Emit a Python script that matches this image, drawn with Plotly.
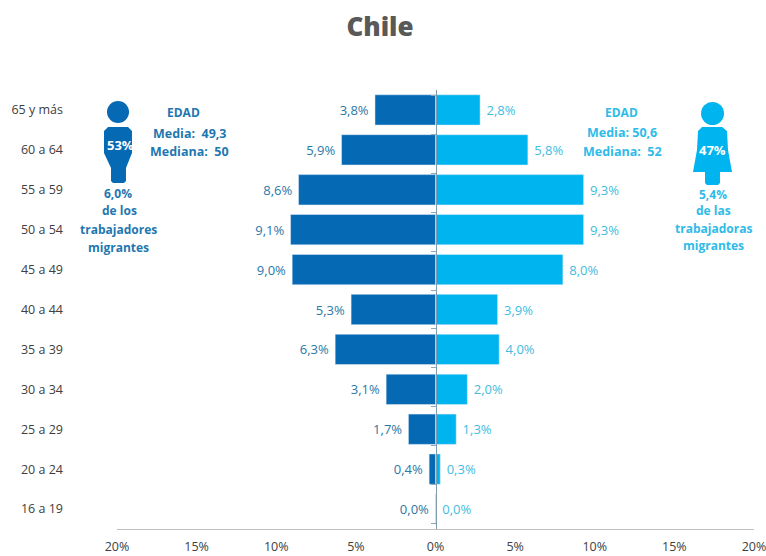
import plotly.graph_objects as go

categories = ["16 a 19", "20 a 24", "25 a 29", "30 a 34", "35 a 39", "40 a 44",
              "45 a 49", "50 a 54", "55 a 59", "60 a 64", "65 y más"]
men = [0.02, 0.4, 1.7, 3.1, 6.3, 5.3, 9.0, 9.1, 8.6, 5.9, 3.8]
women = [0.02, 0.3, 1.3, 2.0, 4.0, 3.9, 8.0, 9.3, 9.3, 5.8, 2.8]
tick_values = [-20, -15, -10, -5, 0, 5, 10, 15, 20]
tick_labels = ["20%", "15%", "10%", "5%", "0%", "5%", "10%", "15%", "20%"]

DARK, LIGHT = "#0569B4", "#00B5EF"
DARK_T, LIGHT_T = "#1F77B0", "#2FBBE8"
FONT = "Open Sans"
W, H = 766, 556
L, R, T, B = 117, 12, 90, 27
NB = "\u00a0"


def fx(x):
    return (x - L) / (W - L - R)


def fy(y):
    return (H - B - y) / (H - T - B)


def fmt(v):
    return f"{v:.1f}".replace(".", ",") + "%"


fig = go.Figure()
fig.add_bar(y=categories, x=[-v for v in men], orientation="h", marker_color=DARK,
            text=[fmt(v) + NB for v in men], textposition="outside", cliponaxis=False,
            textfont=dict(color="#2A78A8", size=13, family=FONT), width=0.76)
fig.add_bar(y=categories, x=women, orientation="h", marker_color=LIGHT,
            text=[NB + fmt(v) for v in women], textposition="outside", cliponaxis=False,
            textfont=dict(color="#42BCE0", size=13, family=FONT), width=0.76)
fig.add_scatter(y=categories, x=[0] * len(categories), yaxis="y2", mode="markers",
                marker=dict(size=1, opacity=0), hoverinfo="skip")

annots = [
    ("EDAD", 183, 113, DARK_T, 12), ("Media:  49,3", 190, 133, DARK_T, 12.5),
    ("Mediana:  50", 189, 151, DARK_T, 12.5),
    ("53%", 120, 145, "white", 13),
    ("6,0%", 118, 193, DARK_T, 12), ("de los", 119, 211, DARK_T, 12),
    ("trabajadores", 118, 229, DARK_T, 12), ("migrantes", 118, 247, DARK_T, 12),
    ("EDAD", 621, 113, LIGHT_T, 12), ("Media: 50,6", 622, 132, LIGHT_T, 12.5),
    ("Mediana:  52", 622, 151, LIGHT_T, 12.5),
    ("47%", 712, 150, "white", 13),
    ("5,4%", 713, 194, LIGHT_T, 12), ("de las", 713, 211, LIGHT_T, 12),
    ("trabajadoras", 713, 228, LIGHT_T, 12), ("migrantes", 713, 245, LIGHT_T, 12),
]
annotations = [dict(text=f"<b>{t}</b>", x=fx(x), y=fy(y), xref="paper", yref="paper",
                    showarrow=False, xanchor="center", yanchor="middle",
                    font=dict(family=FONT, size=s, color=c))
               for t, x, y, c, s in annots]


def path(points):
    return "M" + " L".join(f"{fx(x):.4f},{fy(y):.4f}" for x, y in points) + " Z"


man_body = [(108, 127), (128, 127), (132, 131), (132, 153), (126, 168), (126, 181),
            (124, 183), (113, 183), (111, 181), (111, 168), (104, 153), (104, 131)]
woman_body = [(702, 127), (722, 127), (727, 131), (728, 150), (732, 172), (720, 172),
              (720, 183), (718, 185), (707, 185), (705, 183), (705, 172), (693, 172),
              (697, 150), (698, 131)]
shapes = [
    dict(type="circle", xref="paper", yref="paper", x0=fx(107), x1=fx(129), y0=fy(123), y1=fy(101),
         fillcolor=DARK, line_width=0),
    dict(type="path", xref="paper", yref="paper", path=path(man_body), fillcolor=DARK, line_width=0),
    dict(type="circle", xref="paper", yref="paper", x0=fx(701), x1=fx(724), y0=fy(125), y1=fy(102),
         fillcolor=LIGHT, line_width=0),
    dict(type="path", xref="paper", yref="paper", path=path(woman_body), fillcolor=LIGHT, line_width=0),
]

fig.update_layout(
    width=W, height=H, autosize=False, showlegend=False, barmode="overlay",
    plot_bgcolor="white", paper_bgcolor="white",
    margin=dict(l=L, r=R, t=T, b=B, pad=0),
    font=dict(family=FONT, color="#404040", size=13),
    title=dict(text="Chile", x=380 / W, y=1 - 27 / H, xanchor="center", yanchor="middle",
               font=dict(family="Open Sans", size=26, color="#595959", weight=800)),
    xaxis=dict(range=[-20, 20], tickvals=tick_values, ticktext=tick_labels, showgrid=False,
               zeroline=False, showline=True, linecolor="#BFBFBF", linewidth=1,
               ticks="outside", ticklen=6, tickcolor="rgba(0,0,0,0)", automargin=False,
               ticklabeloverflow="allow", tickfont=dict(size=12.5, color="#404040")),
    yaxis=dict(type="category", categoryorder="array", categoryarray=categories,
               showgrid=False, zeroline=False, showline=False, ticks="", automargin=False,
               ticklabelstandoff=53, tickfont=dict(size=12.5, color="#404040")),
    yaxis2=dict(type="category", categoryorder="array", categoryarray=categories,
                overlaying="y", anchor="free", position=0.5, side="left", tickson="boundaries",
                ticks="outside", ticklen=5, tickcolor="#8FA9B8", showticklabels=False,
                automargin=False, showline=True, linecolor="#7F9DB0", linewidth=1,
                showgrid=False, zeroline=False),
    annotations=annotations, shapes=shapes,
)
fig.write_html("out.html", config=dict(displayModeBar=False),
               post_script="document.body.style.margin='0';document.body.style.overflow='hidden';")
